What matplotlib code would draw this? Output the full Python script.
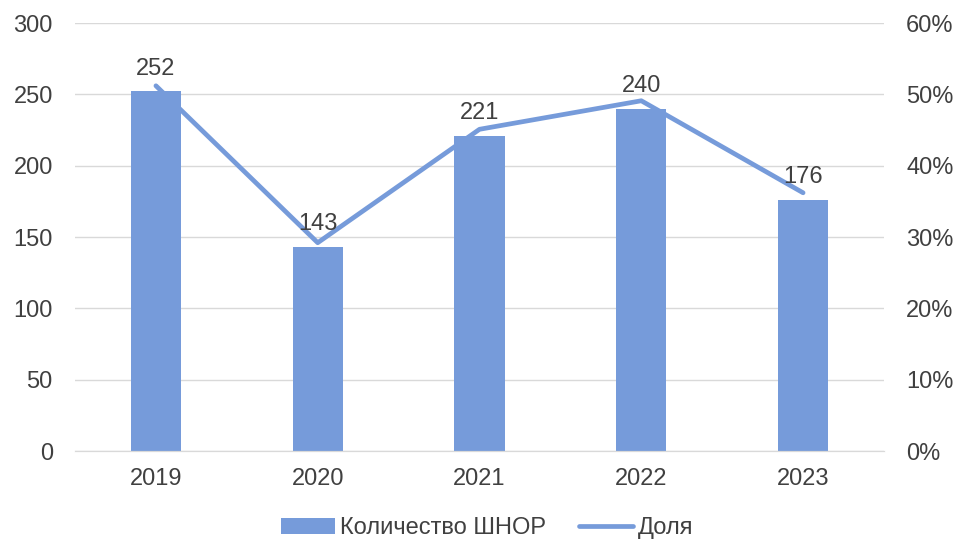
import matplotlib
matplotlib.use("Agg")
import matplotlib.pyplot as plt
import numpy as np
from matplotlib.ticker import FuncFormatter

plt.rcParams['font.family'] = ['Liberation Sans', 'DejaVu Sans']

years = ['2019', '2020', '2021', '2022', '2023']
counts = [252, 143, 221, 240, 176]
share = [51.2, 29.2, 45.1, 49.1, 36.2]

bar_color = '#769BDA'
line_color = '#769BDA'
text_color = '#404040'
grid_color = '#D9D9D9'
fs = 17

fig = plt.figure(figsize=(9.57, 5.4), dpi=100)
ax = fig.add_axes([0.0784, 0.1648, 0.8453, 0.7926])
ax2 = ax.twinx()

x = np.arange(len(years))
ax.bar(x, counts, width=0.31, color=bar_color, zorder=2, label='Количество ШНОР')

ax2.plot(x, share, color=line_color, lw=3.4, solid_capstyle='round', zorder=3, label='Доля')
for xi, v in zip(x, counts):
    ax2.annotate(str(v), (xi, v), xycoords=ax.transData, xytext=(0, 12.2), textcoords='offset points',
                 ha='center', va='baseline', fontsize=fs, color=text_color, zorder=5)

ax.set_xlim(-0.5, len(years) - 0.5)
ax.set_ylim(0, 300)
ax.set_yticks(range(0, 301, 50))
ax2.set_ylim(0, 60)
ax2.set_yticks(range(0, 61, 10))
ax2.yaxis.set_major_formatter(FuncFormatter(lambda v, p: f'{int(v)}%'))
ax.set_xticks(x)
ax.set_xticklabels(years)

ax.grid(axis='y', color=grid_color, lw=1, zorder=0)
ax.set_axisbelow(True)
for a in (ax, ax2):
    for s in ('top', 'left', 'right'):
        a.spines[s].set_visible(False)
    a.spines['bottom'].set_color(grid_color)
    a.tick_params(length=0, labelsize=fs, colors=text_color)
ax.tick_params(axis='x', pad=12.5)
ax.tick_params(axis='y', pad=16)
ax2.tick_params(axis='y', pad=16)

h1, l1 = ax.get_legend_handles_labels()
h2, l2 = ax2.get_legend_handles_labels()
leg = fig.legend(h1 + h2, l1 + l2, loc='center', bbox_to_anchor=(0.509, 0.022), ncol=2,
                 frameon=False, fontsize=fs, handlelength=2.3, handletextpad=0.2, columnspacing=1.4,
                 borderpad=0)
for t in leg.get_texts():
    t.set_color(text_color)

fig.savefig('out.png', dpi=100)
